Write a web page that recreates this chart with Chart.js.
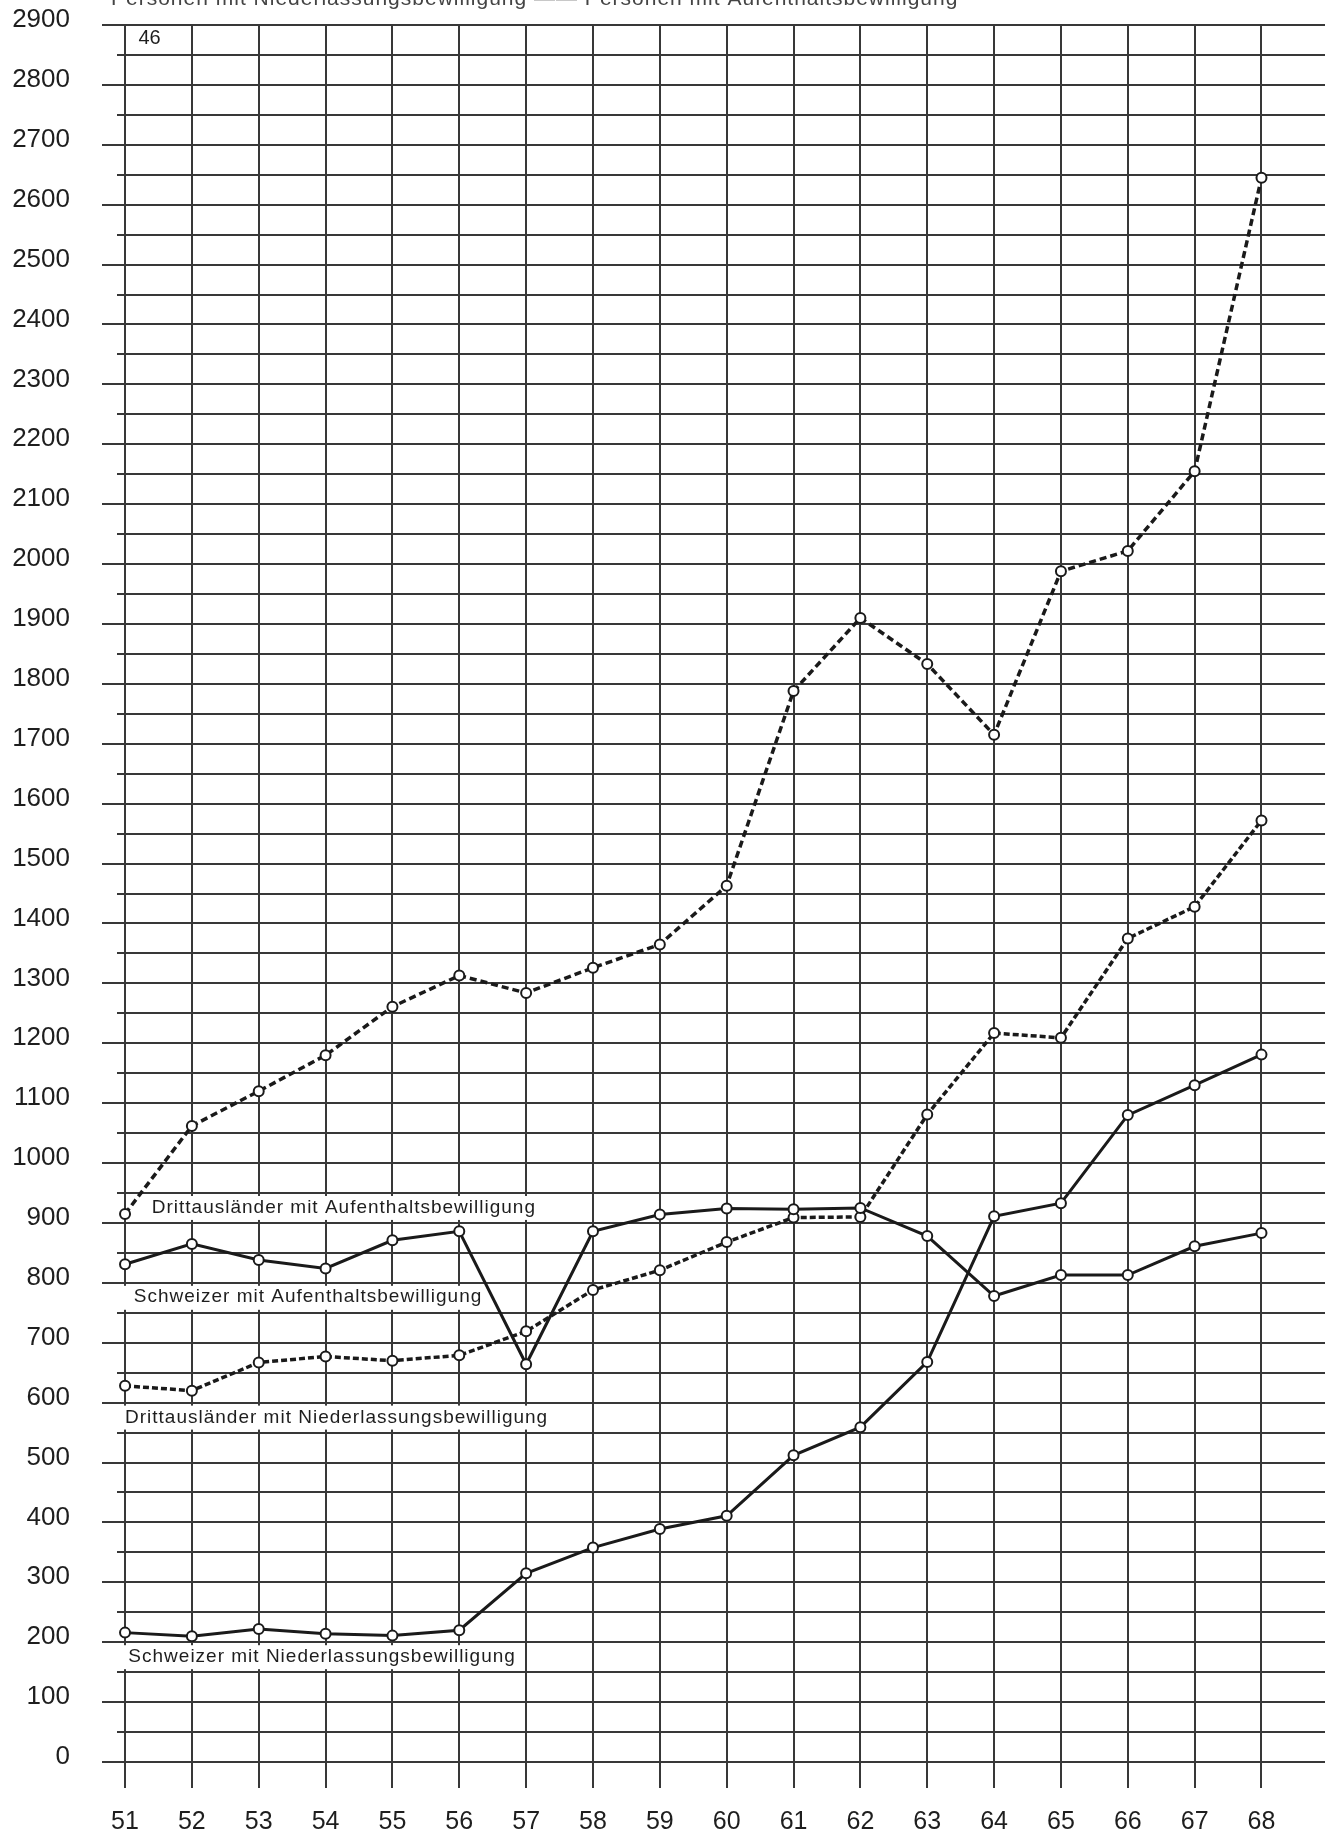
<!DOCTYPE html>
<html>
<head>
<meta charset="utf-8">
<script src="https://cdn.jsdelivr.net/npm/chart.js@4/dist/chart.umd.min.js"></script>
<style>
html,body{margin:0;padding:0;background:#fff;}
#wrap{width:1332px;height:1832px;position:relative;}
</style>
</head>
<body>
<div id="wrap"><canvas id="c" width="1332" height="1832"></canvas></div>
<script>
// ---------- data ----------
const years = [51, 52, 53, 54, 55, 56, 57, 58, 59, 60, 61, 62, 63, 64, 65, 66, 67, 68];
const drittAufenthalt = [915, 1062, 1120, 1180, 1261, 1313, 1284, 1326, 1365, 1463, 1788, 1910, 1833, 1715, 1988, 2022, 2155, 2645];
const schweizerAufenthalt = [831, 865, 838, 824, 871, 886, 664, 886, 914, 924, 923, 925, 878, 778, 813, 813, 861, 883];
const drittNiederlassung = [628, 620, 667, 677, 670, 679, 719, 788, 821, 868, 909, 910, 1081, 1217, 1209, 1375, 1428, 1572];
const schweizerNiederlassung = [216, 210, 222, 214, 211, 220, 315, 358, 389, 411, 512, 559, 668, 911, 933, 1080, 1130, 1181];
const yTickLabels = [0, 100, 200, 300, 400, 500, 600, 700, 800, 900, 1000, 1100, 1200, 1300, 1400, 1500, 1600, 1700, 1800, 1900, 2000, 2100, 2200, 2300, 2400, 2500, 2600, 2700, 2800, 2900];
const seriesNames = [
  'Drittausländer mit Aufenthaltsbewilligung',
  'Schweizer mit Aufenthaltsbewilligung',
  'Drittausländer mit Niederlassungsbewilligung',
  'Schweizer mit Niederlassungsbewilligung'
];
const headerText = 'Personen mit Niederlassungsbewilligung —— Personen mit Aufenthaltsbewilligung - -';
const pageNumber = '46';

// ---------- placement of in-chart labels (data units) ----------
const labelPlacement = [
  {x: 51.40, y: 925, band: [900, 950]},
  {x: 51.13, y: 777, band: [750, 800]},
  {x: 51.00, y: 575, band: [550, 600]},
  {x: 51.05, y: 176, band: [150, 200]}
];
const pagePlacement = {x: 51.2, y: 2877};

const FONT = '"Liberation Sans", Arial, Helvetica, sans-serif';
const INK = '#1a1a1a';
const GRID = '#383838';

const annotPlugin = {
  id: 'annot',
  beforeDatasetsDraw(chart) {
    const {ctx} = chart;
    const x = chart.scales.x, y = chart.scales.y;
    ctx.save();
    ctx.font = '19px ' + FONT;
    try { ctx.letterSpacing = '1px'; } catch (e) {}
    ctx.textBaseline = 'middle';
    labelPlacement.forEach((p, i) => {
      const t = seriesNames[i];
      const px = x.getPixelForValue(p.x);
      const w = ctx.measureText(t).width;
      const top = y.getPixelForValue(p.band[1]) + 3;
      const bot = y.getPixelForValue(p.band[0]) - 3;
      ctx.fillStyle = '#ffffff';
      ctx.fillRect(px - 14, top, w + 22, bot - top);
      ctx.fillStyle = '#1e1e1e';
      ctx.fillText(t, px, y.getPixelForValue(p.y));
    });
    ctx.font = '20px ' + FONT;
    try { ctx.letterSpacing = '0px'; } catch (e) {}
    ctx.fillStyle = '#1e1e1e';
    ctx.fillText(pageNumber, x.getPixelForValue(pagePlacement.x), y.getPixelForValue(pagePlacement.y));
    ctx.restore();
  },
  afterDraw(chart) {
    const {ctx} = chart;
    ctx.save();
    ctx.font = '21px ' + FONT;
    try { ctx.letterSpacing = '1px'; } catch (e) {}
    ctx.fillStyle = '#444';
    ctx.textBaseline = 'alphabetic';
    ctx.fillText(headerText, 111, 5);
    ctx.restore();
  }
};

const pointOpts = {
  pointRadius: 5,
  pointBackgroundColor: '#ffffff',
  pointBorderColor: INK,
  pointBorderWidth: 2,
  tension: 0
};

new Chart(document.getElementById('c'), {
  type: 'line',
  data: {
    labels: years,
    datasets: [
      Object.assign({label: seriesNames[0], data: drittAufenthalt, borderColor: INK, borderWidth: 3.5, borderDash: [7, 4]}, pointOpts),
      Object.assign({label: seriesNames[1], data: schweizerAufenthalt, borderColor: INK, borderWidth: 3}, pointOpts),
      Object.assign({label: seriesNames[2], data: drittNiederlassung, borderColor: INK, borderWidth: 3.5, borderDash: [6, 3]}, pointOpts),
      Object.assign({label: seriesNames[3], data: schweizerNiederlassung, borderColor: INK, borderWidth: 3}, pointOpts)
    ]
  },
  options: {
    responsive: false,
    devicePixelRatio: 1,
    animation: false,
    layout: {padding: {top: 25, left: 0, right: 0, bottom: 0}},
    plugins: {legend: {display: false}, tooltip: {enabled: false}, title: {display: false}},
    scales: {
      x: {
        type: 'linear',
        position: 'bottom',
        min: 50.88,
        max: 68.95,
        afterBuildTicks(s) { s.ticks = years.map(v => ({value: v})); },
        afterFit(s) { s.height = 70; s.paddingLeft = 0; s.paddingRight = 0; },
        ticks: {
          autoSkip: false,
          maxRotation: 0,
          padding: 19,
          color: '#1e1e1e',
          font: {size: 25, family: FONT},
          callback: v => String(v)
        },
        grid: {color: GRID, lineWidth: 2, tickLength: 26, tickColor: GRID, tickWidth: 2},
        border: {display: false}
      },
      y: {
        min: 0,
        max: 2900,
        afterFit(s) { s.width = 117; s.paddingTop = 0; s.paddingBottom = 0; },
        ticks: {
          stepSize: 50,
          autoSkip: false,
          padding: 32,
          labelOffset: -5,
          color: '#1e1e1e',
          font: {size: 26, family: FONT},
          callback: v => (yTickLabels.indexOf(v) >= 0 ? String(v) : '')
        },
        grid: {
          color: GRID,
          lineWidth: 2,
          tickLength: 15,
          tickWidth: 2,
          tickColor: c => (c.tick && yTickLabels.indexOf(c.tick.value) >= 0 ? GRID : 'rgba(0,0,0,0)')
        },
        border: {display: false}
      }
    }
  },
  plugins: [annotPlugin]
});
</script>
</body>
</html>
